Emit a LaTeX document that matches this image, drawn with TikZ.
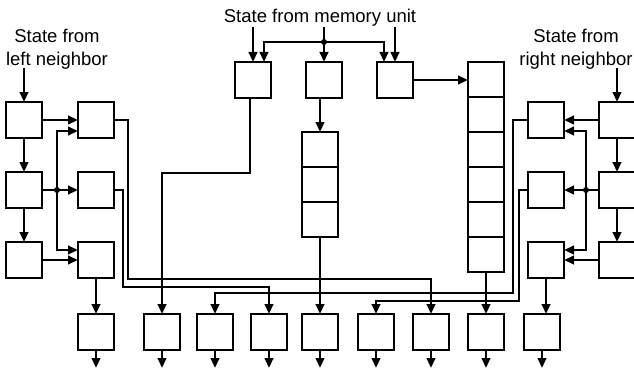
\documentclass[tikz,border=0pt]{standalone}
\usepackage{fontspec}
\setmainfont{Liberation Sans}
\usetikzlibrary{arrows.meta,calc}
\begin{document}
\begin{tikzpicture}[x=1pt,y=-1pt,
  box/.style={draw,line width=2.4pt,minimum width=36pt,minimum height=36pt,inner sep=0pt,outer sep=0pt},
  cellbox/.style={box,minimum height=35pt},
  wire/.style={line width=2.4pt},
  arr/.style={wire,-{Triangle[length=10pt,width=8.5pt]}},
  jdot/.style={circle,fill,inner sep=0pt,minimum size=6pt},
  lbl/.style={font=\fontsize{18.5}{23}\selectfont,align=center,inner sep=0pt,anchor=base}]
\useasboundingbox (0,0) rectangle (634,369);
% labels
\node[lbl] (memtxt) at (320,23) {State from memory unit};
\node[lbl] (lefttxt) at (57,66) {State from\\left neighbor};
\node[lbl] (righttxt) at (576,66) {State from\\right neighbor};
% left columns
\node[box] (L1) at (24,120) {};
\node[box] (L2) at (24,190) {};
\node[box] (L3) at (24,260) {};
\node[box] (A1) at (96,120) {};
\node[box] (A2) at (96,190) {};
\node[box] (A3) at (96,260) {};
% right columns
\node[box] (R1) at (617,120) {};
\node[box] (R2) at (617,190) {};
\node[box] (R3) at (617,260) {};
\node[box] (RA1) at (546,120) {};
\node[box] (RA2) at (546,190) {};
\node[box] (RA3) at (546,260) {};
% memory boxes
\node[box] (M1) at (253,80) {};
\node[box] (M2) at (324,80) {};
\node[box] (M3) at (395,80) {};
% stacks
\foreach \i in {1,2,3} \node[cellbox] (S\i) at (320,{149.5+35*(\i-1)}) {};
\foreach \i in {1,...,6} \node[cellbox] (T\i) at (486,{79.5+35*(\i-1)}) {};
% bottom row
\foreach \n/\x in {1/96,2/162,3/215,4/269,5/320,6/376,7/431,8/486,9/542}
  \node[box] (B\n) at (\x,332) {};
% coordinates
\coordinate (inL) at (24,68);
\coordinate (inR) at (617,68);
\coordinate (inM1) at (253,27);
\coordinate (inM2) at (324,27);
\coordinate (inM3) at (395,27);
\coordinate (JL) at (57,190);
\coordinate (JR) at (586,190);
\coordinate (JM) at (324,42);
% inputs
\draw[arr] (inL) -- (L1.north);
\draw[arr] (inR) -- (R1.north);
\draw[arr] (inM1) -- (M1.north);
\draw[arr] (inM2) -- (M2.north);
\draw[arr] (inM3) -- (M3.north);
\draw[arr] (JM) -| ($(M1.north)+(11,0)$);
\draw[arr] (JM) -| ($(M3.north)+(-11,0)$);
\node[jdot] at (JM) {};
% left neighbour network
\draw[arr] (L1) -- (L2);
\draw[arr] (L2) -- (L3);
\draw[arr] (L1) -- (A1);
\draw[arr] (L2) -- (A2);
\draw[arr] (L3) -- (A3);
\draw[arr] (JL) |- ($(A1.west)+(0,11)$);
\draw[arr] (JL) |- ($(A3.west)+(0,-10)$);
\node[jdot] at (JL) {};
% right neighbour network
\draw[arr] (R1) -- (R2);
\draw[arr] (R2) -- (R3);
\draw[arr] (R1) -- (RA1);
\draw[arr] (R2) -- (RA2);
\draw[arr] (R3) -- (RA3);
\draw[arr] (JR) |- ($(RA1.east)+(0,11)$);
\draw[arr] (JR) |- ($(RA3.east)+(0,-10)$);
\node[jdot] at (JR) {};
% memory paths
\draw[arr] ($(M1.south)+(-3,0)$) -- ++(0,75) -| (B2.north);
\draw[arr] (S1.north |- M2.south) -- (S1.north);
\draw[arr] (S3.south) -- (S3.south |- B5.north);
\draw[arr] (M3.east) -- (M3.east -| T1.west);
\draw[arr] (T6.south) -- (T6.south |- B8.north);
% routing to bottom row
\draw[arr] (A1.east) -| (128,279) -| (B7.north);
\draw[arr] (A2.east) -| (123,287) -| (B4.north);
\draw[arr] (A3.south) -- (A3.south |- B1.north);
\draw[arr] (RA1.west) -| (513,293) -| (B3.north);
\draw[arr] (RA2.west) -| (519,301) -| (B6.north);
\draw[arr] (RA3.south) -- (RA3.south |- B9.north);
% outputs
\foreach \n in {1,...,9} \draw[arr] (B\n.south) -- ++(0,18);
\end{tikzpicture}
\end{document}
